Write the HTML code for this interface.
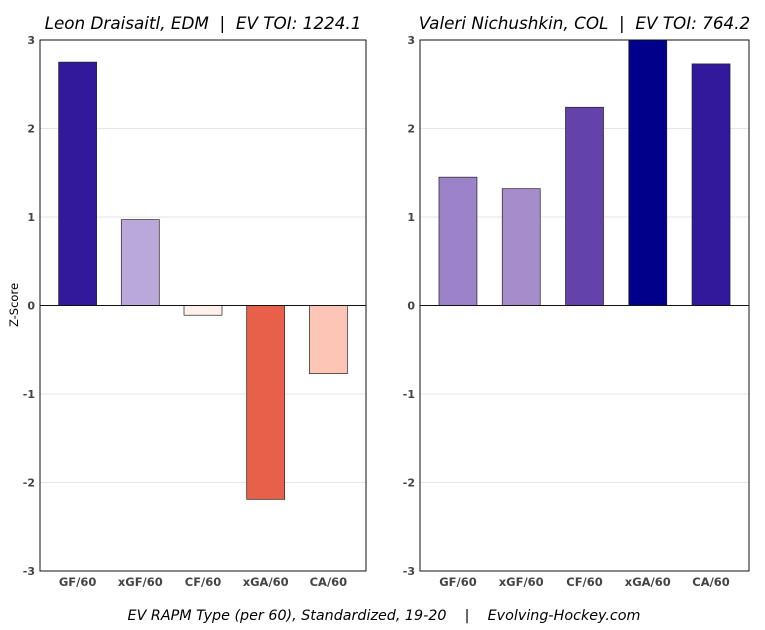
<!DOCTYPE html>
<html><head><meta charset="utf-8"><style>
body{margin:0;background:#fff;}
svg{display:block;font-family:"DejaVu Sans","Liberation Sans",sans-serif;}
</style></head><body>
<svg id="chart" width="765" height="630"></svg>
<script>
const categories = ["GF/60","xGF/60","CF/60","xGA/60","CA/60"];
const leftValues = [2.75, 0.97, -0.11, -2.19, -0.77];
const rightValues = [1.45, 1.32, 2.24, 3.0, 2.73];
const leftColors = ["#32189a","#bba8db","#fff0ec","#e8604a","#fdc5b5"];
const rightColors = ["#9c82c9","#a68ccb","#6442ab","#00008b","#32189a"];
const yTicks = [-3,-2,-1,0,1,2,3];
const leftTitle = "Leon Draisaitl, EDM  |  EV TOI: 1224.1";
const rightTitle = "Valeri Nichushkin, COL  |  EV TOI: 764.2";

const NS = "http://www.w3.org/2000/svg";
const svg = document.getElementById('chart');
function mk(tag, attrs, parent){
  const e = document.createElementNS(NS, tag);
  for (const k in attrs) e.setAttribute(k, attrs[k]);
  (parent||svg).appendChild(e);
  return e;
}
const plotTop = 40, plotBottom = 571;
function yScale(v){ const c = Math.max(-3, Math.min(3, v)); return plotTop + (3 - c) / 6 * (plotBottom - plotTop); }

function panel(x0, x1, values, colors, title, name){
  const g = mk('g', {});
  
  
  const step = (x1 - x0) / 5.2;
  const xScale = i => x0 + step * (0.6 + i);
  yTicks.forEach(t => {
    const y = yScale(t);
    if (t !== 0 && Math.abs(t) !== 3) {
      const gl = mk('line', {x1:x0, x2:x1, y1:y, y2:y, stroke:'#dddddd', 'stroke-width':0.8}, g);
      
      
    }
    const tl = mk('text', {x:x0-5, y:y+4, 'text-anchor':'end', 'font-size':11, 'font-weight':'bold', fill:'#444'}, g);
    tl.textContent = t;
    
    
  });
  values.forEach((v, i) => {
    const cx = xScale(i);
    const y0 = yScale(0), y1 = yScale(v);
    const r = mk('rect', {x:cx-19, y:Math.min(y0,y1), width:38, height:Math.abs(y1-y0), fill:colors[i], stroke:'#222', 'stroke-width':0.7}, g);
    
    
    const xl = mk('text', {x:cx, y:plotBottom+15, 'text-anchor':'middle', 'font-size':11.5, 'font-weight':'bold', fill:'#444'}, g);
    xl.textContent = categories[i];
    
    
  });
  const zl = mk('line', {x1:x0, x2:x1, y1:yScale(0), y2:yScale(0), stroke:'#111', 'stroke-width':1}, g);
  
  
  const fr = mk('rect', {x:x0, y:plotTop, width:x1-x0, height:plotBottom-plotTop, fill:'none', stroke:'#111', 'stroke-width':1}, g);
  
  
  const tt = mk('text', {x:(x0+x1)/2, y:29, 'text-anchor':'middle', 'font-size':16.8, 'font-style':'italic', fill:'#000', style:'white-space:pre'}, g);
  tt.textContent = title;
  
  
}
panel(40, 366, leftValues, leftColors, leftTitle, 'left-panel');
panel(420, 749, rightValues, rightColors, rightTitle, 'right-panel');

const yt = mk('text', {x:18, y:305, 'text-anchor':'middle', 'font-size':11.5, transform:'rotate(-90 18 305)'});
yt.textContent = 'Z-Score';


const ft = mk('text', {x:384, y:620, 'text-anchor':'middle', 'font-size':14.3, 'font-style':'italic', style:'white-space:pre'});
ft.textContent = 'EV RAPM Type (per 60), Standardized, 19-20    |    Evolving-Hockey.com';


</script>
</body></html>
